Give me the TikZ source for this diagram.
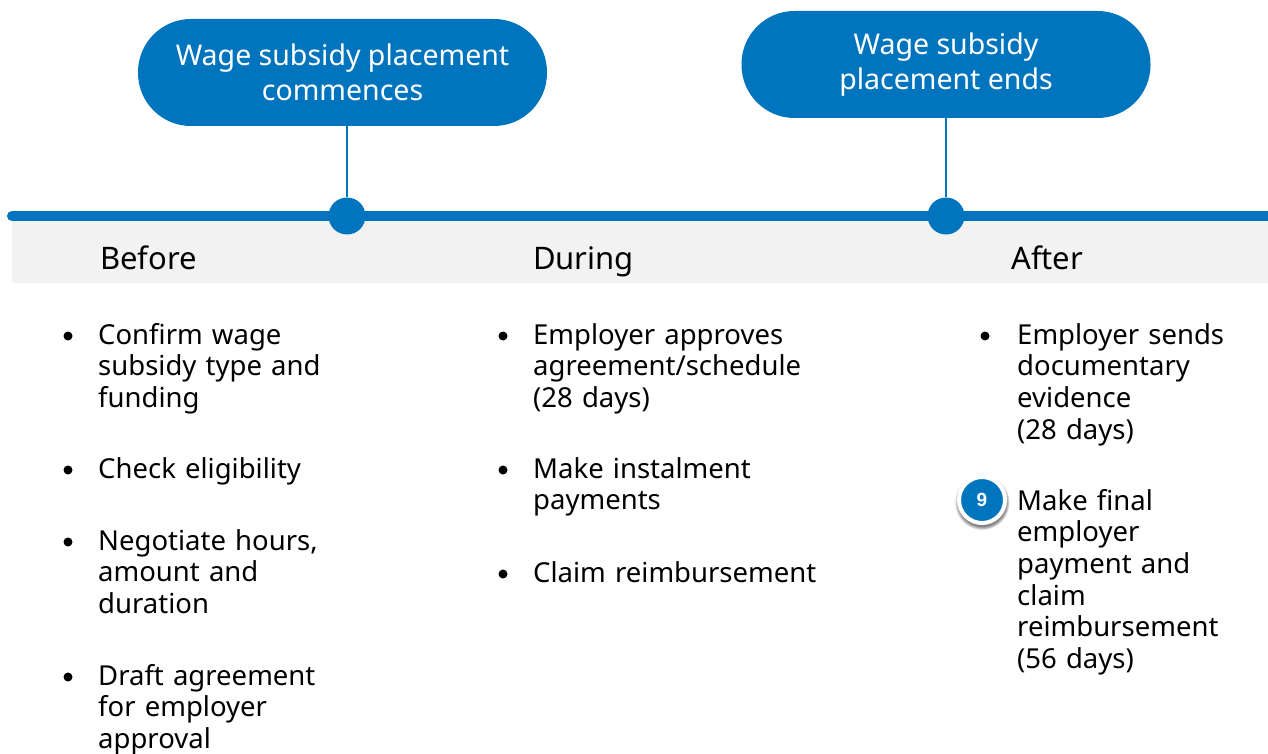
\documentclass[tikz,border=0pt]{standalone}
\usepackage{fontspec}
\setmainfont{Noto Sans}
\newfontfamily\badgefont{Liberation Sans}
\usetikzlibrary{positioning, shadows}
\definecolor{wageblue}{RGB}{0,117,190}
\definecolor{bandgrey}{RGB}{242,242,242}

\begin{document}
\begin{tikzpicture}[
        x=1pt, y=-1pt,             % coordinates in pixels, y downwards
        % styles
        pill/.style={fill=wageblue, text=white, rounded corners=53pt,
            minimum width=409pt, minimum height=107pt, align=center,
            font=\fontsize{28.5}{35}\selectfont},
        milestone/.style={circle, fill=wageblue, minimum size=37pt, inner sep=0pt},
        phase/.style={anchor=base west, inner sep=0pt, font=\fontsize{31}{32}\selectfont},
        task/.style={anchor=base west, inner sep=0pt, text width=340pt, align=left,
            font=\fontsize{27.5}{31.7}\selectfont},
        bulletdot/.style={circle, fill=black, minimum size=9pt, inner sep=0pt},
        badge/.style={circle, fill=wageblue, draw=white, line width=4pt, minimum size=46pt,
            inner sep=0pt, text=white, font=\badgefont\bfseries\fontsize{19}{19}\selectfont,
            circular drop shadow={shadow xshift=0pt, shadow yshift=-2pt, shadow scale=1.2}}
    ]

    \useasboundingbox (0,0) rectangle (1268,754);

    % grey band and timeline
    \fill[bandgrey] (12,216) rectangle (1268,283);
    \draw[wageblue, line width=10pt, line cap=round] (12,216) -- (1290,216);

    % milestones
    \node[pill] (start) at (342.5,72.5) {Wage subsidy placement\\commences};
    \node[pill] (end) at (946,64.5) {Wage subsidy\\placement ends};
    \node[milestone] (m1) at (347,216) {};
    \node[milestone] (m2) at (946,216) {};
    \draw[wageblue, line width=2pt] (m1) -- (m1 |- start.south);
    \draw[wageblue, line width=2pt] (m2) -- (m2 |- end.south);

    % phases
    \node[phase] (before) at (100,269) {Before};
    \node[phase] (during) at (533,269) {During};
    \node[phase] (after) at (1011,269) {After};

    % before
    \node[task] (b1) at (98,344) {Confirm wage\\subsidy type and\\funding};
    \node[task] (b2) at (98,478) {Check eligibility};
    \node[task] (b3) at (98,550) {Negotiate hours,\\amount and\\duration};
    \node[task] (b4) at (98,685) {Draft agreement\\for employer\\approval};
    \node[bulletdot] (kb1) at (68,336) {};
    \node[bulletdot] (kb2) at (68,470) {};
    \node[bulletdot] (kb3) at (68,542) {};
    \node[bulletdot] (kb4) at (68,677) {};

    % during
    \node[task] (d1) at (533,344) {Employer approves\\agreement/schedule\\(28 days)};
    \node[task] (d2) at (533,478) {Make instalment\\payments};
    \node[task] (d3) at (533,582) {Claim reimbursement};
    \node[bulletdot] (kd1) at (503,336) {};
    \node[bulletdot] (kd2) at (503,470) {};
    \node[bulletdot] (kd3) at (503,574) {};

    % after
    \node[task] (a1) at (1017,344) {Employer sends\\documentary\\evidence\\(28 days)};
    \node[task] (a2) at (1017,510) {Make final\\employer\\payment and\\claim\\reimbursement\\(56 days)};
    \node[bulletdot] (ka1) at (985,336) {};
    \node[badge] (n9) at (982,500) {9};
\end{tikzpicture}
\end{document}
